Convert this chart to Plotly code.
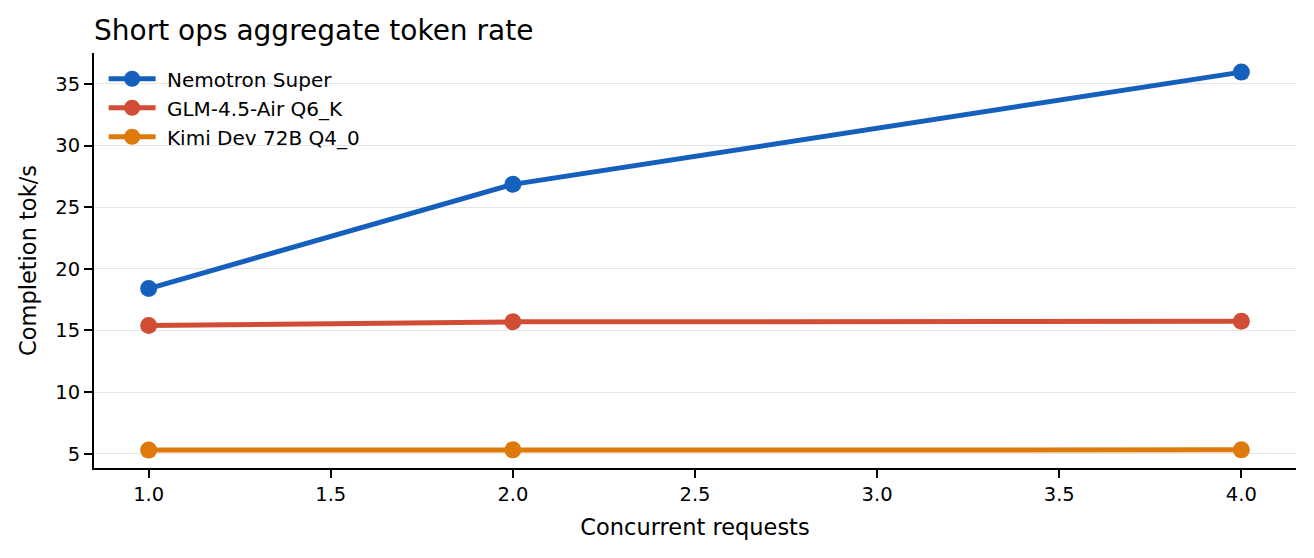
import plotly.graph_objects as go

# data
concurrency = [1, 2, 4]
nemotron = [18.4, 26.85, 35.95]
glm = [15.4, 15.7, 15.75]
kimi = [5.3, 5.32, 5.32]

series_names = ["Nemotron Super", "GLM-4.5-Air Q6_K", "Kimi Dev 72B Q4_0"]
series_colors = ["#1560bd", "#d24d35", "#dd7a0a"]

fig = go.Figure()
for name, vals, col in zip(series_names, [nemotron, glm, kimi], series_colors):
    fig.add_trace(go.Scatter(
        x=concurrency, y=vals, name="&nbsp;" + name,
        mode="lines+markers",
        line=dict(color=col, width=5),
        marker=dict(color=col, size=17),
    ))

font = "DejaVu Sans, Liberation Sans, sans-serif"

# page body adds 8px around the figure, so margins are shifted to match
fig.update_layout(
    width=1314, height=558,
    paper_bgcolor="white", plot_bgcolor="white",
    margin=dict(l=86, r=26, t=45, b=98),
    font=dict(family=font, color="black", size=19.5),
    title=dict(text="Short ops aggregate token rate", x=0, xref="paper",
               y=0.96, yref="container", yanchor="middle",
               font=dict(size=28)),
    showlegend=True,
    legend=dict(x=0.008, y=0.985, xanchor="left", yanchor="top",
                bgcolor="rgba(255,255,255,0)", font=dict(size=20),
                itemwidth=47, tracegroupgap=0),
    xaxis=dict(
        title=dict(text="Concurrent requests", font=dict(size=22.5), standoff=14),
        range=[0.85, 4.15], tickmode="array",
        tickvals=[1.0, 1.5, 2.0, 2.5, 3.0, 3.5, 4.0],
        ticktext=["1.0", "1.5", "2.0", "2.5", "3.0", "3.5", "4.0"],
        tickfont=dict(size=19.5),
        showline=True, linecolor="black", linewidth=2,
        ticks="outside", ticklen=8, tickwidth=2, tickcolor="black",
        showgrid=False, zeroline=False,
    ),
    yaxis=dict(
        title=dict(text="Completion tok/s", font=dict(size=22.5), standoff=12),
        range=[3.85, 37.5], tickvals=[5, 10, 15, 20, 25, 30, 35],
        tickfont=dict(size=19.5),
        showline=True, linecolor="black", linewidth=2,
        ticks="outside", ticklen=8, tickwidth=2, tickcolor="black",
        showgrid=True, gridcolor="#e5e5e5", gridwidth=1, zeroline=False,
    ),
)

fig.write_html("out.html")
